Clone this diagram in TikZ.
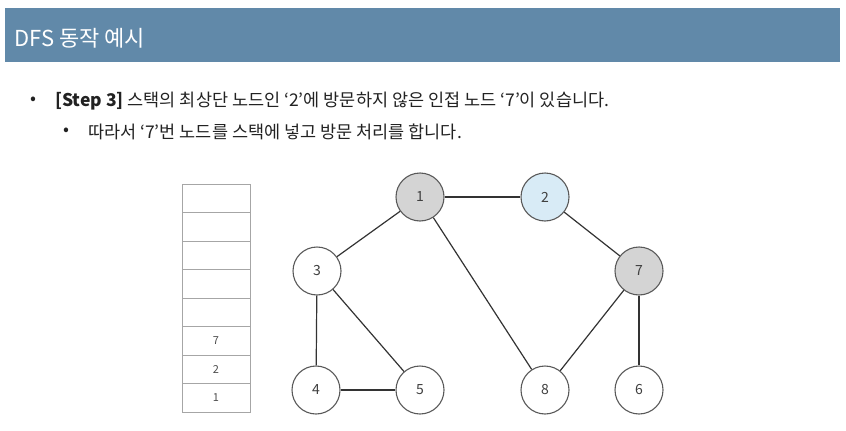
\documentclass[tikz,border=0pt]{standalone}
\usepackage{fontspec}
\setmainfont{Noto Sans CJK KR}
\usetikzlibrary{positioning}
\definecolor{TitleBlue}{HTML}{6189A9}
\definecolor{VisitGray}{HTML}{D4D4D4}
\definecolor{CurBlue}{HTML}{D8EBF6}
\definecolor{EdgeDark}{HTML}{333333}
\definecolor{TextDark}{HTML}{222222}
\begin{document}
\begin{tikzpicture}[x=1pt, y=-1pt,
    vertex/.style={circle, draw=black!65, line width=1.1pt, minimum size=48pt, inner sep=0pt, fill=white, font=\fontsize{14}{14}\selectfont, text=black!75},
    visited/.style={vertex, fill=VisitGray},
    current/.style={vertex, fill=CurBlue},
    stackcell/.style={draw=black!35, line width=0.8pt, minimum width=68pt, minimum height=28.5pt, inner sep=0pt, font=\fontsize{11}{11}\selectfont, text=black!70},
    edge/.style={EdgeDark, line width=1.2pt},
    bullet/.style={font=\fontsize{17.5}{20}\selectfont, text=TextDark, anchor=west, inner sep=0pt}
]
\useasboundingbox (0,0) rectangle (846,431);
% Title bar
\node[fill=TitleBlue, minimum width=835pt, minimum height=54pt, inner sep=0pt, anchor=north west] (titlebar) at (5,8) {};
\node[anchor=west, inner sep=0pt, text=white, font=\fontsize{22}{22}\selectfont] (title) at (14,38) {DFS 동작 예시};

% Bullet text
\node[bullet] (b1) at (30,101) {•};
\node[bullet] (line1) at (55,101) {\textbf{[Step 3]} 스택의 최상단 노드인 ‘2’에 방문하지 않은 인접 노드 ‘7’이 있습니다.};
\node[bullet] (b2) at (63,132) {•};
\node[bullet] (line2) at (88,132) {따라서 ‘7’번 노드를 스택에 넣고 방문 처리를 합니다.};

% Stack
\foreach \i/\val in {1/1, 2/2, 3/7, 4/{}, 5/{}, 6/{}, 7/{}, 8/{}} {
    \node[stackcell] (cell\i) at (216, 412-28.5*\i+14.25) {\val};
}

% Graph nodes
\node[visited] (n1) at (420,197) {1};
\node[current] (n2) at (545,197) {2};
\node[vertex]  (n3) at (317,271) {3};
\node[visited] (n7) at (639,271) {7};
\node[vertex]  (n4) at (316,390) {4};
\node[vertex]  (n5) at (420,390) {5};
\node[vertex]  (n8) at (545,390) {8};
\node[vertex]  (n6) at (639,390) {6};

% Edges
\foreach \a/\b in {n1/n2, n1/n3, n1/n8, n2/n7, n3/n4, n3/n5, n4/n5, n7/n8, n7/n6}
    \draw[edge] (\a) -- (\b);
\end{tikzpicture}
\end{document}
